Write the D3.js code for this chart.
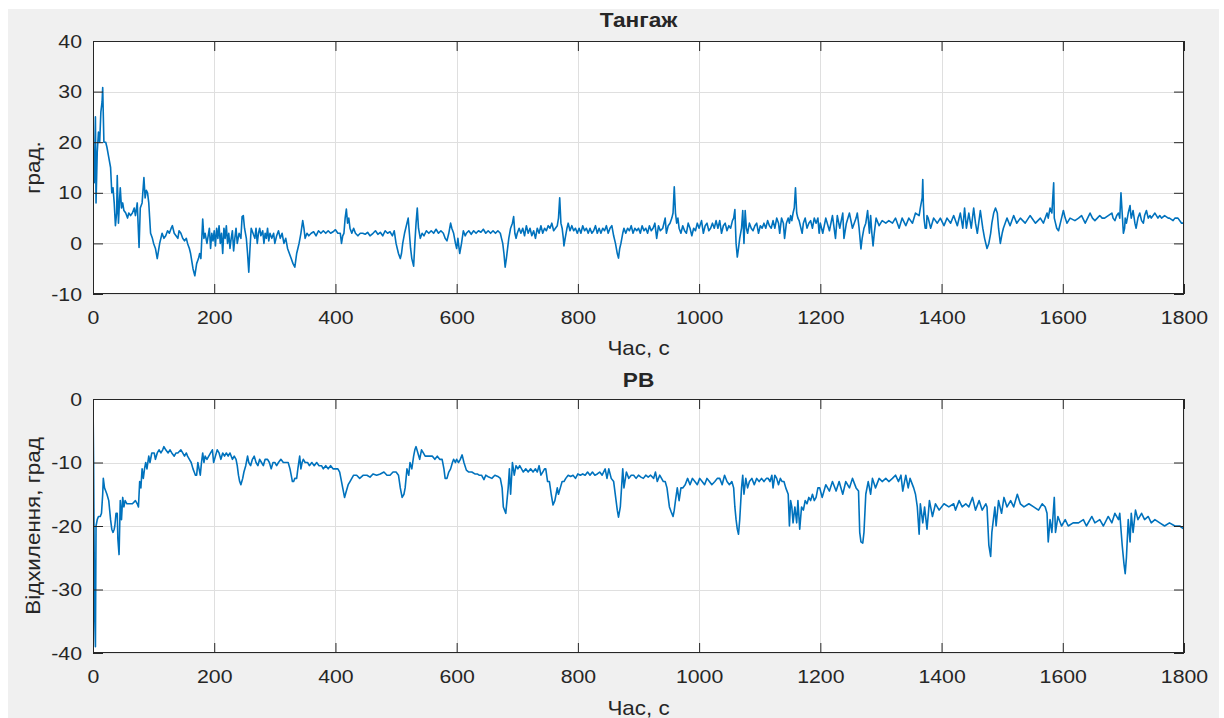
<!DOCTYPE html>
<html>
<head>
<meta charset="utf-8">
<script src="https://cdn.jsdelivr.net/npm/d3@7"></script>
<style>
  html, body { margin: 0; padding: 0; background: #ffffff; }
  svg { display: block; }
  text { font-family: "Liberation Sans", Arial, Helvetica, sans-serif; fill: #262626; }
</style>
</head>
<body>
<svg id="chart" width="1224" height="718"></svg>
<script>
// ---------- DATA ----------
const xTicks = [0, 200, 400, 600, 800, 1000, 1200, 1400, 1600, 1800];
const tangazhYTicks = [-10, 0, 10, 20, 30, 40];
const pbYTicks = [-40, -30, -20, -10, 0];

const titles = ["Тангаж", "PB"];
const xLabel = "Час, с";
const yLabels = ["град.", "Відхилення, град"];

// Тангаж: [time s, degrees]
const tangazhSeries = [
[0,15],[2,12],[4,25],[5,8],[7,18],[9,22],[11,20],[13,26],[15,28],[16,30.8],
[18,20],[21,20],[23,19],[26,17],[29,15],[31,10],[33,11],[35,8],[37,3.5],[39,6],
[40,13.4],[42,4],[44,9],[45,11],[47,7],[49,8],[51,6.5],[54,6],[57,5],[59,6],
[62,5.5],[65,6],[68,7],[70,5.5],[73,8],[76,-0.8],[78,7],[81,8],[84,13],[86,9],
[88,10.5],[90,10],[92,8],[95,2],[98,1],[100,0],[103,-1],[106,-3],[110,0],[114,2],
[117,1],[120,1.5],[123,2.5],[126,2],[129,3],[131,3.5],[134,2],[137,1.5],[140,1],[142,2.5],
[145,2],[148,1],[151,0.5],[154,1],[156,0],[159,-1],[161,-2],[165,-5],[168,-6.4],[171,-4],
[174,-3],[176,-2],[178,-3],[181,4.8],[183,1],[185,2],[188,0],[190,1.5],[192,3],[194,-1],
[196,2],[198,0.5],[200,2.5],[202,-0.5],[204,3],[206,1],[208,3.5],[210,0],[212,2],[214,-2],
[216,3],[218,1],[220,3.5],[222,0],[224,2],[226,-1],[228,1],[230,2.5],[232,-1.5],[234,1],
[236,3],[238,0],[241,2],[244,1],[246,5.3],[248,5.5],[250,3],[253,1],[255,-2],[257,-5.7],
[259,-1],[261,3],[264,2],[267,1],[269,3],[271,0],[273,2],[275,3],[277,1.5],[280,2.5],
[282,0],[284,2],[286,1],[288,3],[290,0.5],[292,2],[295,1],[298,2],[300,0],[303,1.5],
[306,2.5],[309,1],[312,2],[315,0],[318,1],[321,-1],[324,-2],[327,-3],[330,-4],[333,-4.7],
[336,-2],[338,-1],[340,0],[343,2],[346,4.5],[348,3],[350,1],[353,2],[356,1.5],[360,2],
[364,2.3],[368,1.5],[372,2.5],[376,2],[380,2.5],[384,2],[388,2.5],[392,2],[396,2.3],[400,2.7],
[404,2],[408,2],[410,0],[412,1.5],[414,2],[416,5],[418,6.8],[420,4],[422,5],[424,3],
[427,2],[430,3],[433,2],[437,1.5],[441,2],[445,2],[449,1.8],[453,2.2],[457,1.5],[462,2],
[466,2.5],[470,1.8],[474,2.2],[478,1.5],[482,2.5],[486,2],[490,2.3],[494,1.5],[497,2.5],[500,0],
[502,-1],[504,-2],[507,-3],[509,-2],[511,0],[514,2],[516,3],[518,4],[520,5],[522,2],
[524,-1],[526,-3],[529,-4.5],[531,0],[533,4],[535,7],[537,3],[540,1],[543,2],[546,1.5],
[550,2.5],[554,2],[558,2.5],[562,2],[566,2.8],[570,2],[574,2.5],[578,2],[581,1],[584,0.5],
[587,2],[590,4],[592,3],[595,2],[598,0],[600,-1],[602,1],[605,-2],[608,0],[611,2.5],
[614,1.5],[616,2],[620,2.5],[624,1.8],[628,2.5],[632,2],[636,2.5],[640,2.2],[644,2.8],[648,2],
[652,2.5],[656,2],[660,2.5],[664,2],[668,2.5],[672,2],[674,1],[676,0],[678,-2],[680,-4.7],
[682,-3],[684,-1],[686,1],[689,3],[692,4],[694,5.3],[696,2],[698,1],[700,2],[703,3],
[706,2],[709,3],[712,1.5],[715,3.5],[718,2],[721,3],[724,1.5],[727,2.5],[730,1],[733,3],
[736,2],[739,3.5],[742,2],[745,3],[748,2.5],[751,3.5],[754,3],[757,4],[760,2.5],[763,3],
[766,3.5],[768,5],[770,9],[772,4],[774,3],[776,1],[777,-0.5],[779,1],[782,3],[784,4],
[787,2.5],[790,3.5],[793,2.5],[796,3],[799,2],[802,3],[805,2],[808,3.5],[811,2.5],[814,3],
[817,2],[820,3],[823,2],[826,2.5],[829,3.5],[832,2],[835,3],[838,2],[841,3],[844,2.5],
[847,3.5],[850,2],[853,3],[856,3.5],[859,1.5],[862,0],[865,-2],[867,-2.9],[869,-1],[871,0],
[874,2],[876,3],[879,2],[882,3],[885,2.5],[888,3.5],[891,2],[894,3],[897,2.5],[900,3],
[903,2],[906,3.5],[909,2.5],[912,3],[915,2],[918,3.5],[921,2.5],[924,3],[927,4],[930,1],
[933,3.5],[936,2.5],[940,3],[944,5],[946,2],[949,3.5],[952,4],[955,5],[957,6],[959,11.2],
[961,6],[963,4],[965,5],[967,3],[970,2],[973,3.5],[976,2.5],[979,2],[982,4],[985,3],
[988,1.5],[991,3],[994,2.5],[997,4],[1000,3],[1004,4.5],[1007,2],[1010,3.5],[1013,4],[1016,2.5],
[1019,3],[1022,4],[1025,3],[1028,4.5],[1031,3],[1034,4.5],[1037,2],[1040,3.5],[1043,4],[1046,2.5],
[1049,3.5],[1052,3],[1055,4.5],[1057,5],[1059,6.7],[1061,0],[1063,-2.7],[1065,-1],[1067,1],[1070,3],
[1072,6.5],[1074,0],[1076,6.5],[1078,3],[1080,2],[1083,4],[1086,3],[1089,2.5],[1092,3.5],[1095,4],
[1098,2],[1101,3.5],[1104,3],[1107,4],[1110,3],[1113,4.5],[1116,3.5],[1119,3],[1122,4.5],[1125,3],
[1128,5],[1131,4],[1133,2],[1136,5],[1139,4],[1141,1],[1144,4],[1147,5],[1149,4],[1151,5.5],
[1153,4.5],[1155,6],[1157,7],[1159,11],[1161,6],[1163,5],[1165,4.5],[1168,3],[1170,2],[1172,4],
[1175,5],[1178,3],[1181,4],[1184,4.5],[1187,3],[1190,5],[1193,4],[1196,5],[1198,2],[1200,4],
[1204,2],[1209,5],[1215,2.5],[1220,5.5],[1225,1],[1228,5.5],[1232,3],[1237,6],[1239,1],[1243,4],
[1248,6],[1253,3],[1259,5],[1261,6],[1264,3],[1267,-1.1],[1269,1],[1272,3],[1275,4],[1278,6.5],
[1281,2],[1283,5.5],[1285,2],[1287,-0.5],[1289,2],[1292,5],[1297,3.5],[1302,4.5],[1308,4],[1313,4.5],
[1319,4],[1324,5],[1330,3],[1335,5],[1341,3.5],[1346,5],[1352,4],[1357,6],[1363,5.5],[1365,7],
[1368,9],[1369,12.6],[1370,8],[1371,5],[1373,3],[1375,3],[1376,5.5],[1378,5],[1382,3],[1387,5],
[1393,4],[1398,5],[1404,3.5],[1409,5],[1415,4],[1420,5.5],[1426,3.5],[1431,6],[1435,3],[1438,7],
[1441,3],[1445,6],[1449,3],[1453,7],[1456,4],[1459,2],[1464,6.5],[1468,3],[1471,1],[1475,-1],
[1478,0],[1481,2],[1483,4],[1486,6],[1489,7],[1492,6],[1494,3],[1497,0],[1500,2],[1502,3],
[1508,5],[1513,3.5],[1519,5.5],[1524,4],[1530,5],[1538,4],[1546,5.5],[1555,4],[1563,5],[1568,4],
[1574,6],[1576,5],[1579,7],[1582,6],[1585,12],[1586,5],[1588,4],[1590,3],[1593,2.5],[1596,4],
[1598,5],[1601,6.5],[1604,5],[1607,4],[1612,5],[1620,4.5],[1626,5],[1631,5.5],[1637,4],[1641,5],
[1645,6],[1649,5],[1653,4.5],[1657,5],[1661,5.5],[1665,5],[1669,5],[1675,5.5],[1681,6],[1683,5],
[1686,4.5],[1689,5.5],[1692,6],[1694,5],[1696,10],[1698,6],[1700,2],[1702,3],[1703,5],[1705,4],
[1708,6],[1711,7.5],[1712,6],[1713,5],[1716,6.5],[1719,4],[1721,3],[1724,5],[1727,6],[1730,4.5],
[1733,4],[1735,5.5],[1738,6.5],[1741,5],[1744,5.5],[1746,5],[1752,6],[1757,5],[1760,5.5],[1763,5],
[1768,5.5],[1774,5],[1776,5],[1782,4.5],[1785,5],[1790,5],[1796,4],[1800,4]
];

// PB: [time s, deflection degrees]
const pbSeries = [
[0,0],[1,-10],[2,-25],[3,-35],[4,-39],[5,-20],[7,-19],[9,-18.5],[12,-18.5],[14,-18],
[16,-15],[17,-12.5],[19,-14],[21,-14.5],[23,-15],[26,-16],[29,-19],[31,-20.5],[33,-21],[35,-20.5],
[36,-20],[38,-18],[40,-18],[41,-22],[43,-24.5],[45,-16],[47,-19],[49,-15.5],[51,-17],[53,-16],
[56,-16.5],[60,-16.5],[65,-16.5],[70,-16],[73,-16.5],[75,-17],[77,-13],[79,-14],[81,-11],[83,-12.5],
[85,-11],[87,-10],[89,-11],[92,-9],[94,-10],[97,-8.5],[101,-8.5],[103,-9.5],[106,-8.5],[109,-8],
[112,-8.5],[115,-8],[117,-7.5],[120,-8],[124,-8.5],[127,-8],[130,-8.5],[134,-9],[137,-8.5],[140,-8.5],
[145,-8],[148,-8.5],[151,-9],[154,-8.5],[156,-9],[159,-9.5],[162,-10],[165,-11],[167,-11.5],[169,-12],
[171,-12],[173,-10],[175,-11],[177,-12],[179,-10],[181,-8.5],[183,-10],[185,-9],[188,-9.5],[191,-9],
[194,-8.5],[197,-8],[199,-10],[202,-9],[205,-8],[208,-8.5],[211,-9.5],[214,-8.5],[217,-9],[220,-8.5],
[223,-9],[226,-8.5],[230,-9.5],[233,-9],[236,-9.5],[238,-10.5],[240,-12],[242,-13],[244,-13.5],[247,-12.5],
[249,-11.5],[252,-10.5],[255,-9],[257,-10],[260,-10.5],[263,-9.5],[266,-9],[269,-10],[272,-10.5],[275,-9.5],
[278,-10],[281,-10.5],[284,-9.5],[288,-9.5],[291,-10],[294,-11],[297,-10],[300,-10],[303,-10.5],[306,-10],
[310,-9.5],[314,-10],[318,-10],[322,-10],[325,-11],[327,-12],[329,-13],[331,-13],[333,-12.5],[336,-12.5],
[338,-11],[341,-9],[343,-11],[345,-10],[347,-9.5],[350,-10],[354,-10],[357,-10.5],[361,-10],[365,-10.5],
[369,-10],[373,-10.5],[377,-10.5],[380,-11],[384,-10.5],[388,-11],[392,-10.5],[396,-11],[400,-11],[404,-11],
[407,-11.5],[409,-12.5],[412,-14],[415,-15.5],[418,-14.5],[421,-13.5],[424,-13],[427,-12.5],[430,-12],[435,-12],
[440,-12.5],[446,-12],[452,-12],[457,-12.3],[462,-11.8],[468,-12],[474,-11.8],[480,-11.5],[485,-12],[490,-12],
[495,-11.5],[500,-11.5],[504,-12],[507,-14],[510,-15.5],[513,-15],[515,-14],[518,-11],[521,-12],[523,-10],
[526,-11],[529,-9],[531,-8],[533,-7.5],[536,-8.5],[539,-9.5],[542,-8],[545,-8.5],[548,-9],[552,-9],
[556,-9],[560,-9],[564,-9.5],[568,-9],[572,-9.5],[576,-9.5],[579,-11],[581,-12.5],[584,-12.5],[587,-11.5],
[590,-11],[593,-10],[595,-9.5],[598,-10],[600,-9.5],[603,-10],[606,-9.5],[609,-8.8],[612,-10],[616,-11.2],
[620,-11.5],[625,-11.5],[630,-11.8],[634,-11.8],[637,-12],[641,-12],[645,-12.7],[648,-12],[653,-12.3],[658,-12.5],
[663,-12],[668,-12.2],[672,-12.5],[675,-14],[677,-17],[679,-17.5],[681,-18],[683,-16],[685,-14],[687,-11],
[689,-15],[692,-10],[695,-12],[698,-10.5],[701,-11],[704,-10.5],[707,-11],[710,-11.5],[714,-11],[718,-11.5],
[722,-11],[726,-11.5],[730,-11],[733,-11.5],[736,-10.5],[739,-12],[742,-11.5],[745,-11],[747,-11],[750,-13],
[753,-13],[756,-15],[759,-16.7],[762,-16],[764,-15],[766,-14],[768,-15],[771,-14],[774,-13],[777,-13],
[780,-12.5],[784,-12],[788,-12.2],[792,-12],[796,-12.5],[800,-11.8],[804,-12],[808,-11.8],[812,-12],[816,-11.5],
[820,-12],[824,-11.5],[828,-12],[832,-11.8],[836,-11.5],[840,-12],[845,-11],[848,-12.5],[851,-11],[855,-12.5],
[859,-13],[863,-16],[865,-17.5],[867,-18.6],[870,-17],[872,-14],[874,-11],[876,-14],[880,-11.5],[884,-12.5],
[888,-12],[892,-12],[896,-12.5],[900,-12],[904,-12.3],[908,-12.5],[912,-12],[916,-12.3],[920,-12],[925,-12.5],
[928,-11.5],[931,-13],[935,-12],[938,-12.5],[941,-13],[944,-13],[947,-14],[951,-17],[954,-17.8],[957,-18.5],
[959,-17.5],[961,-16],[964,-14],[967,-16],[970,-14],[973,-14],[977,-13.5],[981,-12.5],[985,-13.5],[989,-12.5],
[993,-13],[997,-13.5],[1001,-12.5],[1005,-13],[1009,-13.5],[1013,-12.5],[1017,-13],[1021,-13.5],[1026,-13],[1030,-12.5],
[1034,-12.5],[1038,-13.5],[1042,-12],[1046,-13],[1050,-13.5],[1054,-13],[1057,-14],[1059,-17],[1061,-19],[1063,-20.5],
[1065,-21.3],[1067,-19],[1070,-14],[1072,-12],[1074,-15],[1077,-12.5],[1080,-14],[1083,-13],[1087,-12.5],[1091,-13.5],
[1095,-12.5],[1099,-13],[1103,-12.5],[1107,-13],[1111,-12.5],[1114,-12.5],[1117,-13],[1120,-12],[1122,-14],[1125,-12],
[1128,-12.5],[1131,-13.5],[1134,-12.5],[1137,-13],[1140,-13],[1143,-14],[1147,-15],[1149,-20],[1151,-16],[1153,-17],
[1155,-19.5],[1158,-17],[1161,-19.5],[1163,-16],[1166,-20.5],[1169,-17],[1172,-17.5],[1175,-16],[1178,-16.5],[1181,-15.5],
[1184,-16],[1187,-15],[1190,-16],[1193,-15.5],[1196,-14],[1199,-14],[1203,-15.5],[1209,-13.5],[1215,-14.5],[1220,-13],
[1226,-14.5],[1231,-13],[1237,-15],[1242,-13],[1248,-14],[1253,-12.5],[1259,-14],[1263,-14.5],[1265,-21],[1267,-22.5],
[1270,-22.7],[1272,-21],[1275,-15],[1279,-13],[1283,-15],[1286,-12.5],[1291,-14],[1297,-12.5],[1302,-13],[1308,-12.5],
[1313,-13],[1319,-12.5],[1324,-12],[1329,-13],[1333,-12],[1336,-14.5],[1341,-12],[1345,-14],[1348,-12.5],[1354,-14],
[1357,-15],[1360,-17],[1363,-21.3],[1365,-16.5],[1369,-19.5],[1372,-17],[1376,-20.5],[1380,-16],[1385,-18.5],[1390,-16.5],
[1396,-17.5],[1404,-16.5],[1412,-17],[1420,-16.5],[1423,-17.5],[1429,-16],[1434,-17],[1440,-16.5],[1445,-17],[1451,-15.5],
[1456,-17.5],[1462,-16],[1467,-17.5],[1473,-16.5],[1475,-17],[1478,-23],[1481,-24.8],[1483,-21],[1488,-17],[1490,-20],
[1494,-16],[1499,-18],[1503,-15.5],[1508,-17],[1514,-16],[1519,-17],[1525,-15],[1530,-16.5],[1536,-17],[1544,-16.5],
[1552,-17],[1560,-17.5],[1566,-16.5],[1571,-17],[1574,-18],[1576,-22.5],[1579,-19],[1582,-21],[1586,-15.5],[1588,-21],
[1592,-18.5],[1598,-20],[1604,-19],[1609,-20],[1617,-19.5],[1626,-19.5],[1634,-19],[1639,-20],[1648,-18.5],[1653,-19.5],
[1661,-19],[1667,-20],[1675,-18.5],[1681,-19.5],[1686,-18],[1692,-19],[1694,-18],[1698,-23],[1701,-26],[1703,-27.5],
[1705,-25],[1708,-19],[1711,-22.5],[1713,-18],[1716,-21],[1720,-17.5],[1724,-19],[1730,-18],[1735,-19],[1741,-18.5],
[1746,-19.5],[1752,-19],[1760,-19.5],[1768,-20],[1776,-19.5],[1785,-20],[1793,-20],[1800,-20.5]
];

// ---------- DRAWING ----------
const svg = d3.select("#chart");
const TEXT_STRETCH = 1.12;
const INK = "#262626";
const plainNumber = d => String(d);   // ASCII hyphen for negatives, as in the reference

svg.append("rect").attr("x", 0).attr("y", 0).attr("width", 1224).attr("height", 718).attr("fill", "#ffffff");
svg.append("rect").attr("x", 8).attr("y", 9).attr("width", 1211).attr("height", 709).attr("fill", "#f0f0f0");

const panels = [
  { top: 41, bottom: 294, domain: [-10, 40], yTicks: tangazhYTicks, data: tangazhSeries,
    title: titles[0], titleY: 27, ylabel: yLabels[0], xlabelY: 355 },
  { top: 399, bottom: 653, domain: [-40, 0], yTicks: pbYTicks, data: pbSeries,
    title: titles[1], titleY: 387, ylabel: yLabels[1], xlabelY: 715 }
];

const left = 93, right = 1184;

panels.forEach((p, i) => {
  const x = d3.scaleLinear().domain([0, 1800]).range([left, right]);
  const y = d3.scaleLinear().domain(p.domain).range([p.bottom, p.top]);
  const g = svg.append("g");

  g.append("rect").attr("x", left).attr("y", p.top)
    .attr("width", right - left).attr("height", p.bottom - p.top).attr("fill", "#ffffff");

  // grid
  g.append("g").selectAll("line").data(xTicks).join("line")
    .attr("x1", d => Math.round(x(d)) + 0.5).attr("x2", d => Math.round(x(d)) + 0.5)
    .attr("y1", p.top).attr("y2", p.bottom)
    .attr("stroke", "#dfdfdf").attr("stroke-width", 1);
  g.append("g").selectAll("line").data(p.yTicks).join("line")
    .attr("y1", d => Math.round(y(d)) + 0.5).attr("y2", d => Math.round(y(d)) + 0.5)
    .attr("x1", left).attr("x2", right)
    .attr("stroke", "#dfdfdf").attr("stroke-width", 1);

  // data line
  const clipId = "clip" + i;
  svg.append("clipPath").attr("id", clipId).append("rect")
    .attr("x", left).attr("y", p.top - 1).attr("width", right - left).attr("height", p.bottom - p.top + 2);
  const line = d3.line().x(d => x(d[0])).y(d => y(d[1]));
  g.append("path").datum(p.data)
    .attr("clip-path", `url(#${clipId})`)
    .attr("d", line).attr("fill", "none")
    .attr("stroke", "#0072BD").attr("stroke-width", 1.6)
    .attr("stroke-linejoin", "round");

  // axes (inward ticks, MATLAB style)
  const axB = g.append("g").attr("transform", `translate(0,${p.bottom})`)
    .call(d3.axisBottom(x).tickValues(xTicks).tickSizeInner(-10).tickSizeOuter(0).tickPadding(17).tickFormat(plainNumber));
  const axT = g.append("g").attr("transform", `translate(0,${p.top})`)
    .call(d3.axisTop(x).tickValues(xTicks).tickSizeInner(-10).tickSizeOuter(0).tickFormat(""));
  const axL = g.append("g").attr("transform", `translate(${left},0)`)
    .call(d3.axisLeft(y).tickValues(p.yTicks).tickSizeInner(-10).tickSizeOuter(0).tickPadding(11).tickFormat(plainNumber));
  const axR = g.append("g").attr("transform", `translate(${right},0)`)
    .call(d3.axisRight(y).tickValues(p.yTicks).tickSizeInner(-10).tickSizeOuter(0).tickFormat(""));

  [axB, axT, axL, axR].forEach(a => {
    a.select(".domain").remove();
    a.selectAll("line").attr("stroke", INK).attr("stroke-width", 1);
    a.selectAll("text").attr("fill", INK)
      .style("font-family", '"Liberation Sans", Arial, sans-serif').style("font-size", "19px");
  });
  axB.selectAll(".tick text").attr("transform", `scale(${TEXT_STRETCH},1)`);
  axL.selectAll(".tick text").attr("x", -11 / TEXT_STRETCH).attr("transform", `scale(${TEXT_STRETCH},1)`);

  // box
  g.append("rect").attr("x", left + 0.5).attr("y", p.top + 0.5)
    .attr("width", right - left - 1).attr("height", p.bottom - p.top - 1)
    .attr("fill", "none").attr("stroke", INK).attr("stroke-width", 1);

  const cx = (left + right) / 2;
  // title
  g.append("text").attr("transform", `translate(${cx},${p.titleY}) scale(1.08,1)`)
    .attr("text-anchor", "middle").style("font-size", "21px").style("font-weight", "bold")
    .attr("fill", "#000000").text(p.title);
  // x label
  g.append("text").attr("transform", `translate(${cx},${p.xlabelY}) scale(${TEXT_STRETCH},1)`)
    .attr("text-anchor", "middle").style("font-size", "20px").text(xLabel);
  // y label
  const cy = (p.top + p.bottom) / 2;
  g.append("text").attr("transform", `translate(40,${cy}) rotate(-90) scale(${TEXT_STRETCH},1)`)
    .attr("text-anchor", "middle").style("font-size", "20px").text(p.ylabel);
});
</script>
</body>
</html>
